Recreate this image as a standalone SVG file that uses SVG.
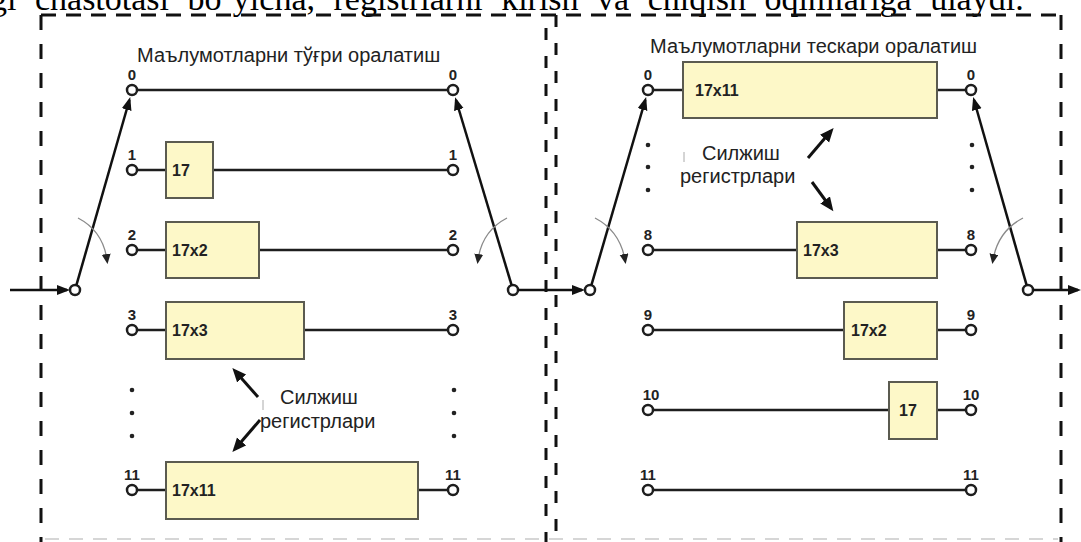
<svg xmlns="http://www.w3.org/2000/svg" width="1081" height="542" viewBox="0 0 1081 542">
<style>
.row{stroke:#1e1e1e;stroke-width:2.5;fill:none}
.pin{fill:#fff;stroke:#1e1e1e;stroke-width:2.5}
.box{fill:#fdf8c8;stroke:#5b5b50;stroke-width:2}
.bl{font-family:"Liberation Sans",Arial,sans-serif;font-weight:bold;font-size:16px;fill:#222}
.num{font-family:"Liberation Sans",Arial,sans-serif;font-weight:bold;font-size:15px;fill:#222;text-anchor:middle}
.title{font-family:"Liberation Sans",Arial,sans-serif;font-size:20px;fill:#222}
.lbl{font-family:"Liberation Sans",Arial,sans-serif;font-size:20px;fill:#222}
.frame{stroke:#111;stroke-width:3;fill:none}
.arm{stroke:#111;stroke-width:2.5;fill:none;marker-end:url(#ah)}
.rot{stroke:#8a8a8a;stroke-width:1.3;fill:none;marker-end:url(#sh)}
.ptr{stroke:#111;stroke-width:3;fill:none;marker-end:url(#ph)}
.dot{fill:#222}
.tick{stroke:#aaa;stroke-width:1}
</style>
<defs>
<marker id="ah" markerUnits="userSpaceOnUse" markerWidth="14" markerHeight="11" refX="10" refY="5" orient="auto"><path d="M0,0 L13,5 L0,10 z" fill="#111"/></marker>
<marker id="sh" markerUnits="userSpaceOnUse" markerWidth="11" markerHeight="10" refX="6" refY="4.5" orient="auto"><path d="M0,0 L10,4.5 L0,9 z" fill="#222"/></marker>
<marker id="ph" markerUnits="userSpaceOnUse" markerWidth="15" markerHeight="13" refX="10" refY="6" orient="auto"><path d="M0,0 L14,6 L0,12 z" fill="#111"/></marker>
</defs>
<rect width="1081" height="542" fill="#fff"/>
<text x="-10" y="10" font-family="Liberation Serif,'Times New Roman',serif" font-size="34" word-spacing="10" fill="#000">gi chastotasi bo‘yicha, registrlarni kirish va chiqish oqimlariga ulaydi.</text>

<g id="frame">
<line class="frame" x1="41" y1="15" x2="1061" y2="15" stroke-dasharray="15 10"/>
<line class="frame" x1="41" y1="15" x2="41" y2="542" stroke-dasharray="15 14"/>
<line class="frame" x1="546" y1="28" x2="546" y2="542" stroke-width="2" stroke-dasharray="12 16"/>
<line class="frame" x1="556" y1="15" x2="556" y2="542" stroke-dasharray="12 16"/>
<line class="frame" x1="1061" y1="15" x2="1061" y2="542" stroke-dasharray="15 14"/>
<line x1="45" y1="539" x2="1058" y2="539" stroke="#d6d6d6" stroke-width="2" stroke-dasharray="14 10"/>
</g>

<g id="left-panel">
<text class="title" x="137" y="62">Маълумотларни тўғри оралатиш</text>
<g id="L-row0"><line class="row" x1="137" y1="90" x2="448" y2="90"/><circle class="pin" cx="132" cy="90" r="5"/><circle class="pin" cx="453" cy="90" r="5"/><text class="num" x="132" y="80">0</text><text class="num" x="453" y="80">0</text></g>
<g id="L-row1"><line class="row" x1="137" y1="170" x2="166" y2="170"/><line class="row" x1="213" y1="170" x2="448" y2="170"/><rect class="box" x="166" y="142" width="47" height="56"/><text class="bl" x="172" y="176">17</text><circle class="pin" cx="132" cy="170" r="5"/><circle class="pin" cx="453" cy="170" r="5"/><text class="num" x="132" y="160">1</text><text class="num" x="453" y="160">1</text></g>
<g id="L-row2"><line class="row" x1="137" y1="250" x2="166" y2="250"/><line class="row" x1="259" y1="250" x2="448" y2="250"/><rect class="box" x="166" y="222" width="93" height="56"/><text class="bl" x="172" y="256">17x2</text><circle class="pin" cx="132" cy="250" r="5"/><circle class="pin" cx="453" cy="250" r="5"/><text class="num" x="132" y="240">2</text><text class="num" x="453" y="240">2</text></g>
<g id="L-row3"><line class="row" x1="137" y1="330" x2="166" y2="330"/><line class="row" x1="304" y1="330" x2="448" y2="330"/><rect class="box" x="166" y="302" width="138" height="57"/><text class="bl" x="172" y="336">17x3</text><circle class="pin" cx="132" cy="330" r="5"/><circle class="pin" cx="453" cy="330" r="5"/><text class="num" x="132" y="320">3</text><text class="num" x="453" y="320">3</text></g>
<g id="L-dots"><circle class="dot" cx="132" cy="390" r="2.3"/><circle class="dot" cx="132" cy="413" r="2.3"/><circle class="dot" cx="132" cy="436" r="2.3"/><circle class="dot" cx="454" cy="390" r="2.3"/><circle class="dot" cx="454" cy="413" r="2.3"/><circle class="dot" cx="454" cy="436" r="2.3"/></g>
<g id="L-row11"><line class="row" x1="137" y1="490" x2="166" y2="490"/><line class="row" x1="418" y1="490" x2="448" y2="490"/><rect class="box" x="166" y="462" width="252" height="57"/><text class="bl" x="172" y="496">17x11</text><circle class="pin" cx="132" cy="490" r="5"/><circle class="pin" cx="453" cy="490" r="5"/><text class="num" x="132" y="480">11</text><text class="num" x="453" y="480">11</text></g>
<g id="L-label"><text class="lbl" x="280" y="404">Силжиш</text><text class="lbl" x="260" y="428">регистрлари</text><line class="tick" x1="263" y1="400" x2="263" y2="410"/></g>
<g id="L-in-switch"><circle class="pin" cx="75" cy="290" r="5"/></g>
<g id="L-out-switch"><circle class="pin" cx="513" cy="290" r="5"/></g>
</g>

<g id="right-panel">
<text class="title" x="650" y="53">Маълумотларни тескари оралатиш</text>
<g id="R-row0"><line class="row" x1="653" y1="90" x2="683" y2="90"/><line class="row" x1="937" y1="90" x2="966" y2="90"/><rect class="box" x="683" y="62" width="254" height="56"/><text class="bl" x="695" y="96">17x11</text><circle class="pin" cx="648" cy="90" r="5"/><circle class="pin" cx="971" cy="90" r="5"/><text class="num" x="648" y="80">0</text><text class="num" x="971" y="80">0</text></g>
<g id="R-dots"><circle class="dot" cx="648" cy="145" r="2.3"/><circle class="dot" cx="648" cy="167" r="2.3"/><circle class="dot" cx="648" cy="190" r="2.3"/><circle class="dot" cx="972" cy="145" r="2.3"/><circle class="dot" cx="972" cy="167" r="2.3"/><circle class="dot" cx="972" cy="190" r="2.3"/></g>
<g id="R-row8"><line class="row" x1="653" y1="250" x2="797" y2="250"/><line class="row" x1="937" y1="250" x2="966" y2="250"/><rect class="box" x="797" y="222" width="140" height="56"/><text class="bl" x="803" y="256">17x3</text><circle class="pin" cx="648" cy="250" r="5"/><circle class="pin" cx="971" cy="250" r="5"/><text class="num" x="648" y="240">8</text><text class="num" x="971" y="240">8</text></g>
<g id="R-row9"><line class="row" x1="653" y1="330" x2="844" y2="330"/><line class="row" x1="937" y1="330" x2="966" y2="330"/><rect class="box" x="844" y="302" width="93" height="57"/><text class="bl" x="851" y="336">17x2</text><circle class="pin" cx="648" cy="330" r="5"/><circle class="pin" cx="971" cy="330" r="5"/><text class="num" x="648" y="320">9</text><text class="num" x="971" y="320">9</text></g>
<g id="R-row10"><line class="row" x1="653" y1="410" x2="889" y2="410"/><line class="row" x1="937" y1="410" x2="966" y2="410"/><rect class="box" x="889" y="382" width="48" height="57"/><text class="bl" x="899" y="416">17</text><circle class="pin" cx="648" cy="410" r="5"/><circle class="pin" cx="971" cy="410" r="5"/><text class="num" x="651" y="400">10</text><text class="num" x="971" y="400">10</text></g>
<g id="R-row11"><line class="row" x1="653" y1="490" x2="966" y2="490"/><circle class="pin" cx="648" cy="490" r="5"/><circle class="pin" cx="971" cy="490" r="5"/><text class="num" x="648" y="480">11</text><text class="num" x="971" y="480">11</text></g>
<g id="R-label"><text class="lbl" x="702" y="160">Силжиш</text><text class="lbl" x="680" y="183">регистрлари</text><line class="tick" x1="684" y1="152" x2="684" y2="162"/></g>
<g id="R-in-switch"><circle class="pin" cx="590" cy="290" r="5"/></g>
<g id="R-out-switch"><circle class="pin" cx="1028" cy="290" r="5"/></g>
</g>

<g id="connectors">
<line class="arm" x1="10" y1="290" x2="67" y2="290"/>
<line class="arm" x1="76.4" y1="285.2" x2="129.4" y2="100"/>
<line class="arm" x1="511.6" y1="285.2" x2="456" y2="100"/>
<line class="arm" x1="518" y1="290" x2="582" y2="290"/>
<line class="arm" x1="591.4" y1="285.2" x2="645.3" y2="100"/>
<line class="arm" x1="1026.6" y1="285.2" x2="974" y2="100"/>
<line class="arm" x1="1033" y1="290" x2="1078" y2="290"/>
<path class="rot" d="M78,218 Q103,231 107,260"/>
<path class="rot" d="M507,218 Q482,231 478,260"/>
<path class="rot" d="M595,218 Q620,231 625,260"/>
<path class="rot" d="M1023,218 Q998,231 993,260"/>
<line class="ptr" x1="258" y1="397" x2="235" y2="371"/>
<line class="ptr" x1="260" y1="420" x2="235" y2="449"/>
<line class="ptr" x1="808" y1="158" x2="831" y2="131"/>
<line class="ptr" x1="812" y1="182" x2="831" y2="208"/>
</g>
</svg>
